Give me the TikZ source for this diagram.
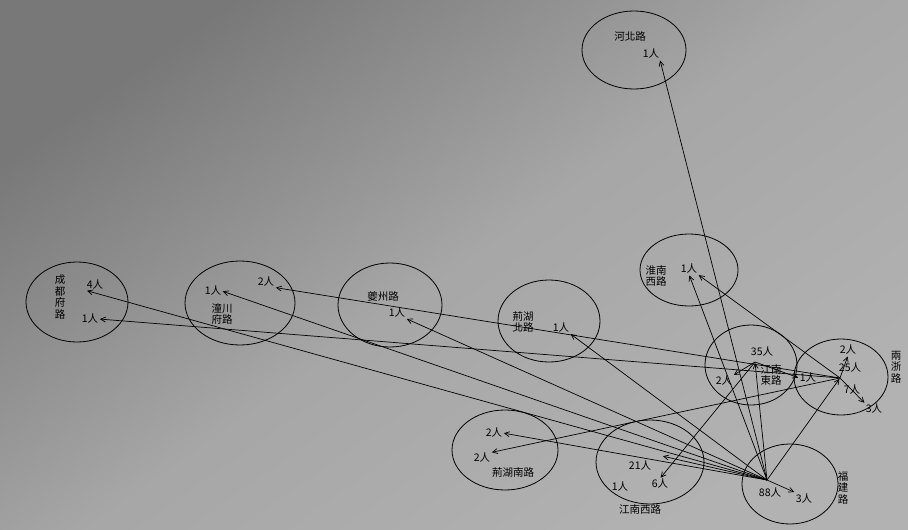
\documentclass[tikz,border=0pt]{standalone}
\usepackage{fontspec}
\newfontfamily\cjk{Noto Sans CJK TC}
\usetikzlibrary{shapes.geometric,arrows.meta}
\definecolor{bgdark}{RGB}{120,120,120}
\definecolor{bglight}{RGB}{178,178,178}
\tikzset{
  region/.style={draw=black, line width=0.8pt, ellipse, inner sep=0pt},
  lbl/.style={font=\cjk\fontsize{10.5}{12}\selectfont, inner sep=0.5pt, text=black},
  vlbl/.style={lbl, align=center, font=\cjk\fontsize{10.5}{11.5}\selectfont},
  flow/.style={line width=0.7pt, draw=black, -{Straight Barb[length=5pt,width=5pt]}, shorten >=1pt}
}
\begin{document}
\begin{tikzpicture}[x=1pt,y=-1pt]
\useasboundingbox (0,0) rectangle (908,530);
\shade[top color=bgdark, bottom color=bglight, middle color=bglight!80!bgdark, shading angle=35] (0,0) rectangle (908,530);

% regions
\node[region, minimum width=104pt, minimum height=78pt] (hebei) at (634,50) {};
\node[region, minimum width=102pt, minimum height=80pt] (chengdu) at (77,302) {};
\node[region, minimum width=110pt, minimum height=84pt] (tongchuan) at (240,303) {};
\node[region, minimum width=104pt, minimum height=84pt] (kuizhou) at (390,305) {};
\node[region, minimum width=102pt, minimum height=82pt] (jinghubei) at (549,321) {};
\node[region, minimum width=98pt, minimum height=72pt] (huainanxi) at (689,270) {};
\node[region, minimum width=92pt, minimum height=80pt] (jiangnandong) at (751,365) {};
\node[region, minimum width=94pt, minimum height=76pt] (liangzhe) at (841,377) {};
\node[region, minimum width=106pt, minimum height=80pt] (jinghunan) at (505,450) {};
\node[region, minimum width=108pt, minimum height=84pt] (jiangnanxi) at (650,462) {};
\node[region, minimum width=96pt, minimum height=80pt] (fujian) at (790,484) {};

% labels
\node[lbl] (hbname) at (630,36) {河北路};
\node[lbl] (hb1) at (651,54) {1人};

\node[vlbl] (cdname) at (60,297) {成\\都\\府\\路};
\node[lbl] (cd4) at (95,285) {4人};
\node[lbl] (cd1) at (90,319) {1人};

\node[lbl] (tc1) at (213,291) {1人};
\node[lbl] (tc2) at (266,282) {2人};
\node[vlbl] (tcname) at (222,314) {潼川\\府路};

\node[lbl] (kzname) at (383,296) {夔州路};
\node[lbl] (kz1) at (397,313) {1人};

\node[vlbl] (jhbname) at (523,322) {荊湖\\北路};
\node[lbl] (jhb1) at (561,328) {1人};

\node[vlbl] (hnxname) at (656,276) {淮南\\西路};
\node[lbl] (hnx1) at (689,269) {1人};

\node[lbl] (jnd35) at (762,352) {35人};
\node[vlbl] (jndname) at (771,375) {江南\\東路};
\node[lbl] (jnd2) at (724,381) {2人};

\node[lbl] (lz2) at (848,350) {2人};
\node[lbl] (lz25) at (850,368) {25人};
\node[lbl] (lz1) at (808,378) {1人};
\node[lbl] (lz7) at (852,390) {7人};
\node[lbl] (lz3) at (874,409) {3人};
\node[vlbl] (lzname) at (896,367) {兩\\浙\\路};

\node[lbl] (jhn2a) at (494,433) {2人};
\node[lbl] (jhn2b) at (482,458) {2人};
\node[lbl] (jhnname) at (513,473) {荊湖南路};

\node[lbl] (jnx21) at (640,466) {21人};
\node[lbl] (jnx1) at (620,486) {1人};
\node[lbl] (jnx6) at (660,484) {6人};
\node[lbl] (jnxname) at (640,509) {江南西路};

\node[lbl] (fj88) at (770,492) {88人};
\node[lbl] (fj3) at (804,498) {3人};
\node[vlbl] (fjname) at (843,488) {福\\建\\路};

% hubs
\coordinate (F) at (767,480);
\coordinate (L) at (840,378);
\coordinate (E) at (755,362);
\coordinate (X) at (662,456);

% flows from 福建路
\draw[flow] (F) -- (hb1.south east);
\draw[flow] (F) -- (cd4.south west);
\draw[flow] (F) -- (tc1.east);
\draw[flow] (F) -- (kz1.south east);
\draw[flow] (F) -- (jhb1.south east);
\draw[flow] (F) -- (jhn2a.east);
\draw[flow] (F) -- (X);
\draw[flow] (F) -- (E);
\draw[flow] (F) -- (L);
\draw[flow] (F) -- (fj3.north west);
\draw[flow] (F) -- (hnx1.south);

% flows from 兩浙路
\draw[flow] (L) -- (cd1.east);
\draw[flow] (L) -- (tc2.south east);
\draw[flow] (L) -- (jhn2b.north east);
\draw[flow] (L) -- (lz3.north west);
\draw[flow] (L) -- (lz2.south);
\draw[flow] (L) -- (hnx1.south east);

% flows from 江南東路
\draw[flow] (E) -- (jnd2.north east);
\draw[flow] (E) -- (lz1.west);
\draw[flow] (E) -- (jnx6.north);
\end{tikzpicture}
\end{document}
